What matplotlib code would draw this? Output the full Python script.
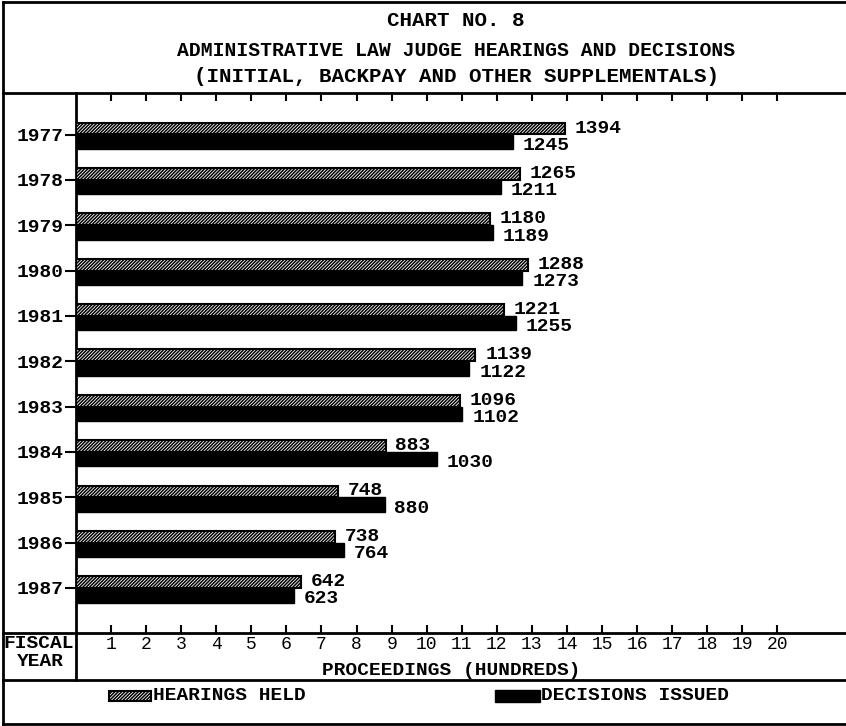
import numpy as np
import matplotlib
matplotlib.use("Agg")
import matplotlib.pyplot as plt
from matplotlib.patches import Rectangle

# fiscal years and counts of proceedings
years = ["1977", "1978", "1979", "1980", "1981", "1982",
         "1983", "1984", "1985", "1986", "1987"]
hearings_held = [1394, 1265, 1180, 1288, 1221, 1139, 1096, 883, 748, 738, 642]
decisions_issued = [1245, 1211, 1189, 1273, 1255, 1122, 1102, 1030, 880, 764, 623]
x_ticks = list(range(1, 21))

title_lines = ["CHART NO. 8",
               "ADMINISTRATIVE LAW JUDGE HEARINGS AND DECISIONS",
               "(INITIAL, BACKPAY AND OTHER SUPPLEMENTALS)"]

plt.rcParams['font.family'] = ['Liberation Mono', 'DejaVu Sans Mono']
plt.rcParams['hatch.linewidth'] = 1.1

HATCH = '//////////'
W, H = 846, 726
fig = plt.figure(figsize=(W / 100, H / 100), dpi=100)

# overlay in pixel units for the frame, title block and legend row
frame = fig.add_axes([0, 0, 1, 1])
frame.set_xlim(0, W)
frame.set_ylim(H, 0)
frame.axis('off')

lw = 2.0
frame.plot([3, 3], [2, 724], color='black', lw=lw)
frame.plot([3, W], [2, 2], color='black', lw=lw)
frame.plot([3, W], [724, 724], color='black', lw=lw)
frame.plot([3, W], [93, 93], color='black', lw=lw)
frame.plot([3, W], [633, 633], color='black', lw=lw)
frame.plot([3, W], [680, 680], color='black', lw=lw)
frame.plot([76, 76], [93, 680], color='black', lw=lw)

for ty, txt, fs in zip([21, 51, 77], title_lines, [15, 14.2, 15]):
    frame.text(456, ty, txt, ha='center', va='center', fontsize=fs,
               fontweight='bold')

frame.text(39, 643, "FISCAL", ha='center', va='center', fontsize=14,
           fontweight='bold')
frame.text(40, 662, "YEAR", ha='center', va='center', fontsize=14,
           fontweight='bold')

# legend row
frame.add_patch(Rectangle((109, 691), 42, 10, facecolor='white',
                          edgecolor='black', hatch=HATCH, lw=1.5))
frame.text(153, 696, "HEARINGS HELD", ha='left', va='center', fontsize=14,
           fontweight='bold')
frame.add_patch(Rectangle((495, 690), 45, 12, facecolor='black',
                          edgecolor='black'))
frame.text(541, 696, "DECISIONS ISSUED", ha='left', va='center', fontsize=14,
           fontweight='bold')

# main bar panel
px = 35.07  # pixels per hundred
x0, x1, y_top, y_bot = 76, W, 93, 633
ax = fig.add_axes([x0 / W, (H - y_bot) / H, (x1 - x0) / W, (y_bot - y_top) / H])
ax.set_facecolor('none')

y = np.arange(len(years))
h_vals = np.array(hearings_held) / 100
d_vals = np.array(decisions_issued) / 100

ax.barh(y - 0.13, h_vals, height=0.26, color='white', edgecolor='black',
        hatch=HATCH, lw=1.5)
ax.barh(y + 0.16, d_vals, height=0.32, color='black', edgecolor='black')

for yi, hv, dv, hn, dn in zip(y, h_vals, d_vals, hearings_held, decisions_issued):
    ax.annotate(str(hn), (hv, yi - 0.14), xytext=(7, 0), textcoords='offset points',
                ha='left', va='center', fontsize=14, fontweight='bold')
    ax.annotate(str(dn), (dv, yi + 0.24), xytext=(7, 0), textcoords='offset points',
                ha='left', va='center', fontsize=14, fontweight='bold')

ax.set_xlim(0, (x1 - x0) / px)
ax.set_ylim(10 + (y_bot - 588) / 45.35, -(134.5 - y_top) / 45.35)

for s in ax.spines.values():
    s.set_visible(False)

ax.set_yticks(y)
ax.set_yticklabels(years, fontsize=14, fontweight='bold')
ax.tick_params(axis='y', direction='out', length=8, width=1.5, pad=1)

ax.set_xticks(x_ticks)
ax.set_xticklabels([str(t) for t in x_ticks], fontsize=13)
ax.tick_params(axis='x', direction='in', length=6, width=1.5, pad=2,
               top=True, bottom=True)

ax.set_xlabel("PROCEEDINGS (HUNDREDS)", fontsize=14, fontweight='bold')
ax.xaxis.set_label_coords((451 - x0) / (x1 - x0), -(662 - y_bot) / (y_bot - y_top))

fig.savefig("out.png", dpi=100)
